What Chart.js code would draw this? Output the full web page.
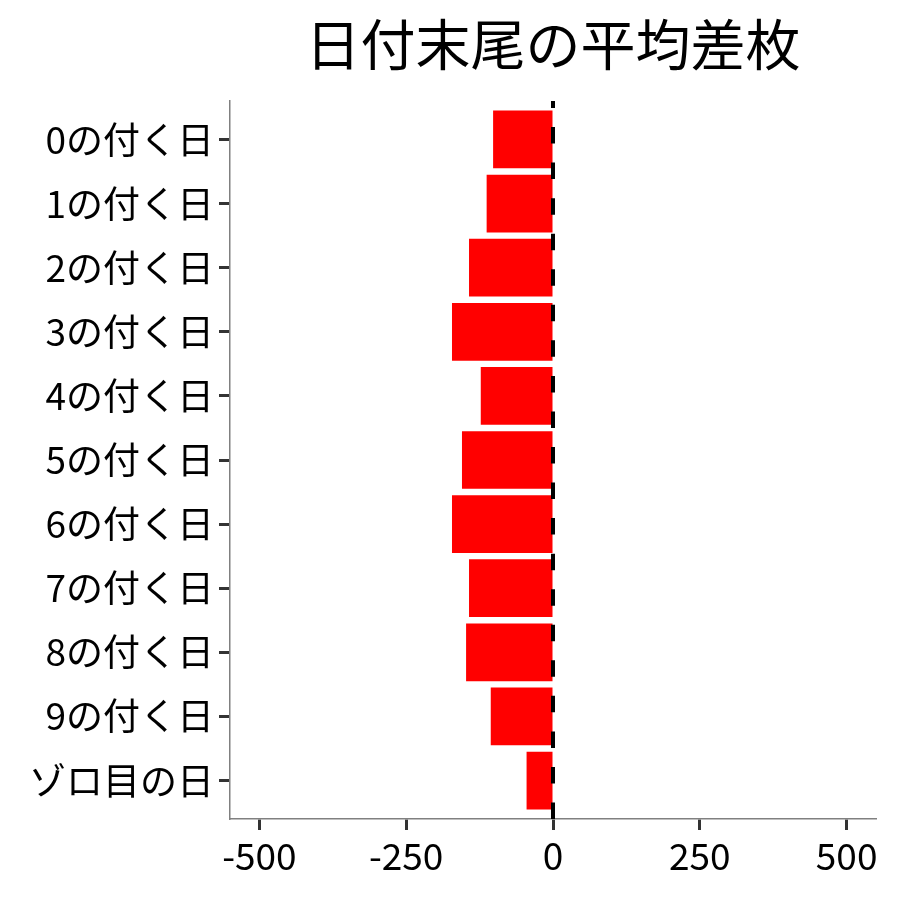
<!DOCTYPE html>
<html>
<head>
<meta charset="utf-8">
<title>日付末尾の平均差枚</title>
<script src="https://cdn.jsdelivr.net/npm/chart.js@4"></script>
<style>
  html, body { margin: 0; padding: 0; background: #fff; }
  #wrap { width: 900px; height: 900px; }
</style>
</head>
<body>
<div id="wrap"><canvas id="chart-area" width="900" height="900"></canvas></div>
<script>
var categories = ["0の付く日", "1の付く日", "2の付く日", "3の付く日", "4の付く日", "5の付く日",
                  "6の付く日", "7の付く日", "8の付く日", "9の付く日", "ゾロ目の日"];
var diffValues = [-102, -113, -143, -172, -123, -155, -172, -143, -148, -106, -45];
var xTicks = [-500, -250, 0, 250, 500];

var FONT = "'Noto Sans CJK JP', 'Noto Sans', sans-serif";

// dashed line at x = 0, drawn bottom to top over the bars
var zeroLine = {
    id: 'zeroLine',
    afterDatasetsDraw: function (chart) {
        var ctx = chart.ctx;
        var area = chart.chartArea;
        var x = chart.scales.x.getPixelForValue(0);
        ctx.save();
        ctx.beginPath();
        ctx.rect(area.left, area.top, area.right - area.left, area.bottom - area.top);
        ctx.clip();
        ctx.strokeStyle = '#000';
        ctx.lineWidth = 4;
        ctx.setLineDash([16.5, 19.05]);
        ctx.beginPath();
        ctx.moveTo(x, area.bottom);
        ctx.lineTo(x, area.top);
        ctx.stroke();
        ctx.restore();
    }
};

function GetPoints() {
    var pts = [];
    for (var i = 0; i < diffValues.length; i++) {
        pts.push({ x: diffValues[i], y: i });
    }
    return pts;
}

var config = {
    type: 'bar',
    data: {
        datasets: [{
            data: GetPoints(),
            backgroundColor: '#FF0000',
            borderWidth: 0,
            barPercentage: 0.9,
            categoryPercentage: 1.0
        }]
    },
    options: {
        indexAxis: 'y',
        responsive: false,
        animation: false,
        devicePixelRatio: 1,
        layout: { padding: { top: 0, right: 24, bottom: 0, left: 0 } },
        plugins: {
            legend: { display: false },
            tooltip: { enabled: false },
            title: {
                display: true,
                text: '日付末尾の平均差枚',
                fullSize: false,
                color: '#000',
                font: { family: FONT, size: 55, weight: 'normal' },
                padding: { top: 11, bottom: 24 }
            }
        },
        scales: {
            x: {
                type: 'linear',
                min: -550,
                max: 550,
                afterBuildTicks: function (scale) {
                    scale.ticks = xTicks.map(function (v) { return { value: v }; });
                },
                afterFit: function (scale) { scale.height = 81; },
                ticks: {
                    color: '#000',
                    padding: 4,
                    font: { family: FONT, size: 37 },
                    callback: function (v) { return v; }
                },
                grid: {
                    drawOnChartArea: false,
                    drawTicks: true,
                    tickLength: 11,
                    tickColor: '#333',
                    tickWidth: 3
                },
                border: { display: true, color: '#808080', width: 1.5 }
            },
            y: {
                type: 'linear',
                min: -0.6,
                max: 10.6,
                reverse: true,
                offset: false,
                afterBuildTicks: function (scale) {
                    scale.ticks = categories.map(function (c, i) { return { value: i }; });
                },
                afterFit: function (scale) { scale.width = 230; },
                ticks: {
                    color: '#000',
                    padding: 5,
                    font: { family: FONT, size: 37 },
                    callback: function (v) { return categories[v]; }
                },
                grid: {
                    offset: false,
                    drawOnChartArea: false,
                    drawTicks: true,
                    tickLength: 11,
                    tickColor: '#333',
                    tickWidth: 3
                },
                border: { display: true, color: '#808080', width: 1.5 }
            }
        }
    },
    plugins: [zeroLine]
};

function CreateGraph() {
    var ctx = document.getElementById("chart-area").getContext("2d");
    window.myBar = new Chart(ctx, config);
}

CreateGraph();
</script>
</body>
</html>
